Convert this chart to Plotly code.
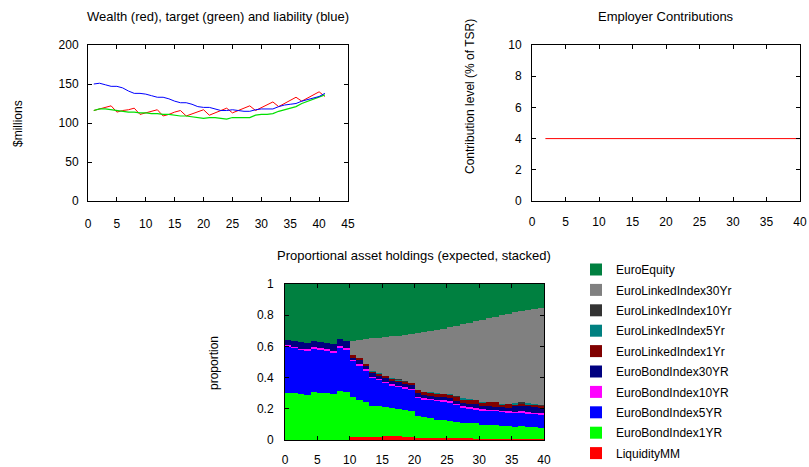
import plotly.graph_objects as go

W, H = 809, 467

# ---------------- Wealth / target / liability ($ millions) ----------------
years = list(range(1, 42))
wealth = [116, 118, 120, 122, 114, 116, 117, 119, 111, 113, 115, 117, 109, 111,
          114, 116, 109, 112, 114, 117, 110, 113, 116, 119, 113, 116, 119, 122,
          116, 120, 123, 127, 121, 125, 129, 133, 128, 132, 136, 140, 134]
target = [116, 118, 118, 117, 116, 115, 114, 114, 113, 113, 112, 112, 111, 111,
          110, 109, 109, 108, 107, 106, 107, 107, 106, 105, 107, 107, 107, 107,
          110, 111, 111, 112, 115, 117, 119, 121, 125, 128, 131, 133, 136]
liability = [150, 151, 149, 147, 147, 145, 141, 138, 138, 137, 135, 133, 133, 131,
             128, 126, 126, 124, 121, 120, 120, 118, 116, 116, 117, 116, 115, 115,
             117, 118, 118, 118, 121, 123, 124, 125, 128, 130, 132, 134, 138]

# ---------------- Employer contributions (% of TSR) ----------------
contrib_years = [2, 3, 4, 5, 6, 7, 8, 9, 10, 11, 12, 13, 14, 15, 16, 17, 18, 19, 20,
                 21, 22, 23, 24, 25, 26, 27, 28, 29, 30, 31, 32, 33, 34, 35, 36, 37,
                 38, 39, 40]
contrib_level = [4, 4, 4, 4, 4, 4, 4, 4, 4, 4, 4, 4, 4, 4, 4, 4, 4, 4, 4, 4, 4, 4,
                 4, 4, 4, 4, 4, 4, 4, 4, 4, 4, 4, 4, 4, 4, 4, 4, 4]

# ---------------- Proportional asset holdings (stacked, bottom -> top) ----------------
periods = list(range(0, 40))
liquidity_mm = [0, 0, 0, 0, 0, 0, 0, 0, 0, 0,
                .018, .018, .020, .022, .022, .024, .028, .028, .022, .020,
                .015, .015, .015, .012, .012, .012, .010, .010, .010, .004,
                .004, .004, .004, .004, .004, .004, .004, .004, .004, .004]
bond_1yr = [.303, .299, .295, .288, .310, .303, .299, .297, .316, .310,
            .255, .240, .225, .197, .193, .185, .174, .170, .172, .169,
            .142, .131, .125, .117, .117, .111, .106, .100, .100, .104,
            .093, .091, .091, .088, .086, .080, .084, .080, .078, .073]
bond_5yr = [.297, .292, .283, .288, .279, .278, .273, .266, .280, .273,
            .236, .222, .200, .181, .170, .159, .148, .144, .136, .133,
            .113, .116, .118, .122, .119, .120, .110, .100, .095, .089,
            .095, .093, .091, .089, .088, .090, .089, .086, .085, .086]
bond_10yr = [.009, .007, .007, .007, .007, .008, .009, .009, .006, .006,
             .007, .007, .007, .007, .007, .007, .007, .007, .007, .007,
             .007, .007, .007, .007, .007, .007, .007, .007, .007, .007,
             .007, .007, .007, .007, .007, .007, .007, .007, .007, .007]
bond_30yr = [.030, .036, .043, .041, .038, .041, .043, .041, .043, .043,
             .011, .025, .023, .023, .021, .022, .023, .021, .021, .021,
             .023, .021, .019, .018, .018, .017, .020, .021, .020, .026,
             .021, .020, .020, .022, .023, .034, .032, .038, .037, .037]
linked_1yr = [0, 0, 0, 0, 0, 0, 0, 0, 0, 0,
              .015, .013, .013, .006, .011, .016, .013, .013, .014, .016,
              .018, .020, .018, .020, .023, .023, .026, .024, .026, .024,
              .020, .030, .028, .018, .022, .015, .019, .015, .015, .014]
linked_5yr = [0, 0, 0, 0, 0, 0, 0, 0, 0, 0,
              0, 0, 0, .005, .004, 0, .006, .002, 0, 0,
              0, 0, .003, .003, 0, .004, 0, .006, .006, 0,
              .006, 0, 0, .006, 0, .006, 0, .006, .006, 0]
linked_10yr = [0, 0, 0, 0, 0, 0, 0, 0, 0, 0,
               0, 0, 0, 0, 0, 0, 0, .003, .004, 0,
               0, 0, 0, 0, 0, 0, .006, 0, 0, 0,
               0, 0, 0, 0, 0, 0, .006, 0, 0, .006]
linked_30yr = [0, 0, 0, 0, 0, 0, 0, 0, 0, 0,
               .090, .117, .159, .210, .229, .249, .265, .280, .296, .311,
               .365, .380, .391, .403, .415, .428, .446, .475, .488, .508,
               .525, .534, .549, .567, .579, .582, .586, .597, .605, .617]
euro_equity = [.361, .366, .372, .376, .366, .370, .376, .387, .355, .368,
               .368, .358, .353, .349, .343, .338, .336, .332, .328, .323,
               .317, .310, .304, .298, .289, .278, .268, .257, .248, .238,
               .229, .221, .210, .199, .191, .182, .173, .167, .163, .155]

asset_series = [
    ("LiquidityMM", liquidity_mm, "#ff0000"),
    ("EuroBondIndex1YR", bond_1yr, "#00ff00"),
    ("EuroBondIndex5YR", bond_5yr, "#0000ff"),
    ("EuroBondIndex10YR", bond_10yr, "#ff00ff"),
    ("EuroBondIndex30YR", bond_30yr, "#000080"),
    ("EuroLinkedIndex1Yr", linked_1yr, "#800000"),
    ("EuroLinkedIndex5Yr", linked_5yr, "#008080"),
    ("EuroLinkedIndex10Yr", linked_10yr, "#333333"),
    ("EuroLinkedIndex30Yr", linked_30yr, "#808080"),
    ("EuroEquity", euro_equity, "#008040"),
]

FONT = "Liberation Sans, Arial, sans-serif"


def px_x(p):
    return p / W


def px_y(p):
    return 1 - p / H


fig = go.Figure()

# top-left panel
fig.add_trace(go.Scatter(x=years, y=wealth, mode="lines", line=dict(color="#ff0000", width=1),
                         xaxis="x", yaxis="y", showlegend=False))
fig.add_trace(go.Scatter(x=years, y=target, mode="lines", line=dict(color="#00e000", width=1.2),
                         xaxis="x", yaxis="y", showlegend=False))
fig.add_trace(go.Scatter(x=years, y=liability, mode="lines", line=dict(color="#0000ff", width=1),
                         xaxis="x", yaxis="y", showlegend=False))

# top-right panel
fig.add_trace(go.Scatter(x=contrib_years, y=contrib_level, mode="lines",
                         line=dict(color="#ff0000", width=1),
                         xaxis="x2", yaxis="y2", showlegend=False))

# bottom panel: stacked proportions (legend lists the top layer first)
n_assets = len(asset_series)
for i, (name, vals, col) in enumerate(asset_series):
    fig.add_trace(go.Bar(x=periods, y=vals, name=name, offset=0, width=1,
                         marker=dict(color=col, line=dict(width=0)),
                         xaxis="x3", yaxis="y3", legendgroup=name,
                         legendrank=100 + n_assets - i, showlegend=True))

# empty carriers so the label-only overlay axes get drawn
for xa, ya in (("x4", "y4"), ("x5", "y5"), ("x6", "y6")):
    fig.add_trace(go.Scatter(x=[None], y=[None], mode="markers", xaxis=xa, yaxis=ya,
                             showlegend=False, hoverinfo="skip"))


def frame_axis(**kw):
    """Boxed axis with inward ticks on all four sides, no labels."""
    base = dict(showline=True, linecolor="black", linewidth=1, mirror="ticks",
                ticks="inside", ticklen=4, tickwidth=1, tickcolor="black",
                showgrid=False, zeroline=False, showticklabels=False, automargin=False)
    base.update(kw)
    return base


def label_axis(gap, **kw):
    """Overlay axis that only carries the tick labels, pushed out by invisible ticks."""
    base = dict(showline=False, ticks="outside", ticklen=gap, tickcolor="rgba(0,0,0,0)",
                showgrid=False, zeroline=False, automargin=False,
                tickfont=dict(family=FONT, size=12, color="black"))
    base.update(kw)
    return base


X1 = dict(range=[0, 45], tickvals=[0, 5, 10, 15, 20, 25, 30, 35, 40, 45])
Y1 = dict(range=[0, 200], tickvals=[0, 50, 100, 150, 200])
X2 = dict(range=[0, 40], tickvals=[0, 5, 10, 15, 20, 25, 30, 35, 40])
Y2 = dict(range=[0, 10], tickvals=[0, 2, 4, 6, 8, 10])
X3 = dict(range=[0, 40], tickvals=[0, 5, 10, 15, 20, 25, 30, 35, 40])
Y3 = dict(range=[0, 1], tickvals=[0, 0.2, 0.4, 0.6, 0.8, 1])

fig.update_layout(
    template="none",
    width=W, height=H,
    margin=dict(l=0, r=0, t=0, b=0, autoexpand=False),
    paper_bgcolor="white", plot_bgcolor="white",
    barmode="stack", bargap=0,
    font=dict(family=FONT, size=12, color="black"),
    xaxis=frame_axis(domain=[px_x(88), px_x(348)], anchor="y", **X1),
    yaxis=frame_axis(domain=[px_y(201), px_y(45)], anchor="x", **Y1),
    xaxis2=frame_axis(domain=[px_x(532), px_x(800)], anchor="y2", **X2),
    yaxis2=frame_axis(domain=[px_y(201), px_y(45)], anchor="x2", **Y2),
    xaxis3=frame_axis(domain=[px_x(285), px_x(544)], anchor="y3", **X3),
    yaxis3=frame_axis(domain=[px_y(440), px_y(284)], anchor="x3", **Y3),
    # label carriers
    xaxis4=label_axis(12, overlaying="x", anchor="y4", side="bottom", **X1),
    yaxis4=label_axis(6, overlaying="y", anchor="x4", side="left", **Y1),
    xaxis5=label_axis(10, overlaying="x2", anchor="y5", side="bottom", **X2),
    yaxis5=label_axis(7, overlaying="y2", anchor="x5", side="left", **Y2),
    xaxis6=label_axis(9, overlaying="x3", anchor="y6", side="bottom", **X3),
    yaxis6=label_axis(8, overlaying="y3", anchor="x6", side="left", **Y3),
    legend=dict(x=px_x(576), y=px_y(255), xanchor="left", yanchor="top",
                traceorder="grouped", tracegroupgap=1.4,
                font=dict(family=FONT, size=12, color="black"),
                bgcolor="rgba(0,0,0,0)"),
)

annotations = [
    dict(text="Wealth (red), target (green) and liability (blue)", x=px_x(218), y=px_y(16), size=13),
    dict(text="Employer Contributions", x=px_x(666), y=px_y(16), size=13),
    dict(text="Proportional asset holdings (expected, stacked)", x=px_x(414), y=px_y(255), size=13),
    dict(text="$millions", x=px_x(18), y=px_y(124), textangle=-90, size=12),
    dict(text="Contribution level (% of TSR)", x=px_x(470), y=px_y(97), textangle=-90, size=12),
    dict(text="proportion", x=px_x(214), y=px_y(363), textangle=-90, size=12),
]
for a in annotations:
    size = a.pop("size")
    a.update(xref="paper", yref="paper", showarrow=False, xanchor="center", yanchor="middle",
             font=dict(family=FONT, size=size, color="black"))
fig.update_layout(annotations=annotations)

fig.write_html("out.html")
